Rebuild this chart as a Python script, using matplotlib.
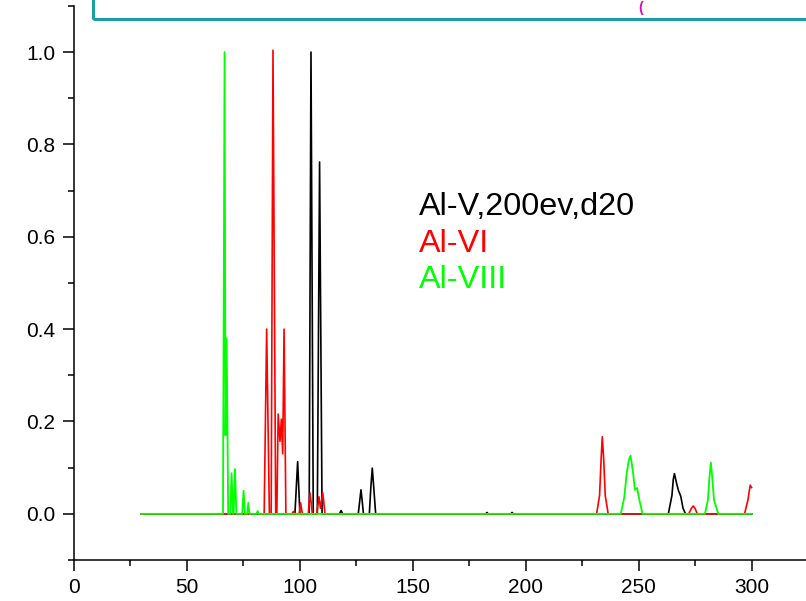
import matplotlib
matplotlib.use("Agg")
import matplotlib.pyplot as plt
from matplotlib.patches import Rectangle
from matplotlib.ticker import MultipleLocator

# ============================
# Normalised spectra: Al-V, Al-VI, Al-VIII
# ============================

plt.rcParams['font.family'] = ['Liberation Sans', 'DejaVu Sans']

# Al-V,200ev,d20 (black)
black_x = [30, 97.9, 99.1, 100.1, 104.2, 105.0, 106.0, 107.8, 108.8, 109.9,
           117.6, 118.3, 119.0, 125.9, 126.6, 127.1, 127.6, 128.2,
           130.8, 131.5, 132.1, 132.7, 133.6,
           182.3, 182.8, 183.3, 193.4, 193.9, 194.4,
           263.0, 264.6, 265.2, 265.7, 266.7, 267.5, 268.5, 269.5, 270.6, 300]
black_y = [0, 0, 0.113, 0, 0, 1.0, 0, 0, 0.762, 0,
           0, 0.007, 0, 0, 0.03, 0.052, 0.03, 0,
           0, 0.06, 0.099, 0.06, 0,
           0, 0.003, 0, 0, 0.003, 0,
           0, 0.04, 0.075, 0.087, 0.065, 0.05, 0.038, 0.012, 0, 0]

# Al-VI (red)
red_x = [30, 84.3, 85.4, 86.6, 87.4, 88.2, 89.4, 89.9, 90.5, 91.3, 91.9, 92.5,
         93.1, 93.9, 96.6, 97.2, 97.8, 99.8, 100.4, 101.2, 103.8, 104.6, 105.6,
         107.6, 108.5, 109.2, 110.2, 111.2,
         231.3, 232.6, 233.3, 233.8, 234.4, 235.1, 236.4,
         272.0, 273.2, 274.0, 274.8, 275.8,
         296.7, 298.2, 299.2, 299.8]
red_y = [0, 0, 0.40, 0, 0, 1.004, 0, 0, 0.216, 0.157, 0.205, 0.13,
         0.40, 0, 0, 0.005, 0, 0, 0.024, 0, 0, 0.045, 0,
         0, 0.037, 0.012, 0.046, 0,
         0, 0.04, 0.12, 0.167, 0.12, 0.04, 0,
         0, 0.012, 0.017, 0.012, 0,
         0, 0.03, 0.062, 0.057]

# Al-VIII (green)
green_x = [30, 66.1, 66.8, 67.2, 67.7, 68.1, 68.4, 69.3, 69.9, 70.5, 70.8, 71.4,
           72.0, 74.6, 75.2, 75.8, 76.8, 77.3, 77.8, 80.9, 81.4, 81.9,
           242.0, 243.5, 244.6, 245.6, 246.3, 247.4, 248.2, 249.2, 250.2, 251.6,
           279.2, 280.5, 281.2, 281.8, 282.4, 283.2, 285.1, 300]
green_y = [0, 0, 1.0, 0.17, 0.38, 0.167, 0, 0, 0.088, 0, 0, 0.097,
           0, 0, 0.05, 0, 0, 0.024, 0, 0, 0.006, 0,
           0, 0.035, 0.088, 0.118, 0.126, 0.09, 0.052, 0.056, 0.03, 0,
           0, 0.03, 0.08, 0.111, 0.08, 0.03, 0, 0]

series_labels = ["Al-V,200ev,d20", "Al-VI", "Al-VIII"]
series_colors = ["black", "#ff0000", "#00ff00"]

fig = plt.figure(figsize=(8.06, 6.01), dpi=100)
ax = fig.add_axes([0.0912, 0.0682, 0.926, 0.922])

ax.plot(black_x, black_y, color=series_colors[0], lw=1.2)
ax.plot(red_x, red_y, color=series_colors[1], lw=1.2)
ax.plot(green_x, green_y, color=series_colors[2], lw=1.3)

ax.set_xlim(0, 330)
ax.set_ylim(-0.1, 1.1)

ax.xaxis.set_major_locator(MultipleLocator(50))
ax.xaxis.set_minor_locator(MultipleLocator(25))
ax.yaxis.set_major_locator(MultipleLocator(0.2))
ax.yaxis.set_minor_locator(MultipleLocator(0.1))
ax.yaxis.set_major_formatter(plt.FuncFormatter(lambda v, p: f"{v:.1f}"))

ax.tick_params(which='major', direction='out', length=8, width=1.1,
               labelsize=15, pad=5)
ax.tick_params(which='minor', direction='out', length=4.3, width=1.1)
ax.spines['top'].set_visible(False)
ax.spines['right'].set_visible(False)
for s in ['left', 'bottom']:
    ax.spines[s].set_linewidth(1.1)

# text legend
for label, color, y in zip(series_labels, series_colors, [0.647, 0.568, 0.489]):
    ax.text(152.7, y, label, color=color, fontsize=23.3, va='baseline', ha='left')

# teal title box, cropped at the top of the picture
fig.patches.append(Rectangle((93 / 806, 1 - 19 / 601), 0.95, 0.1,
                             transform=fig.transFigure, fill=False,
                             edgecolor='#1a9e9e', lw=2.2, clip_on=False))
fig.text(641 / 806, 1 - 8 / 601, "(", color='#d010b0', fontsize=10,
         ha='center', va='center', fontweight='bold')

fig.savefig("out.png", dpi=100)
